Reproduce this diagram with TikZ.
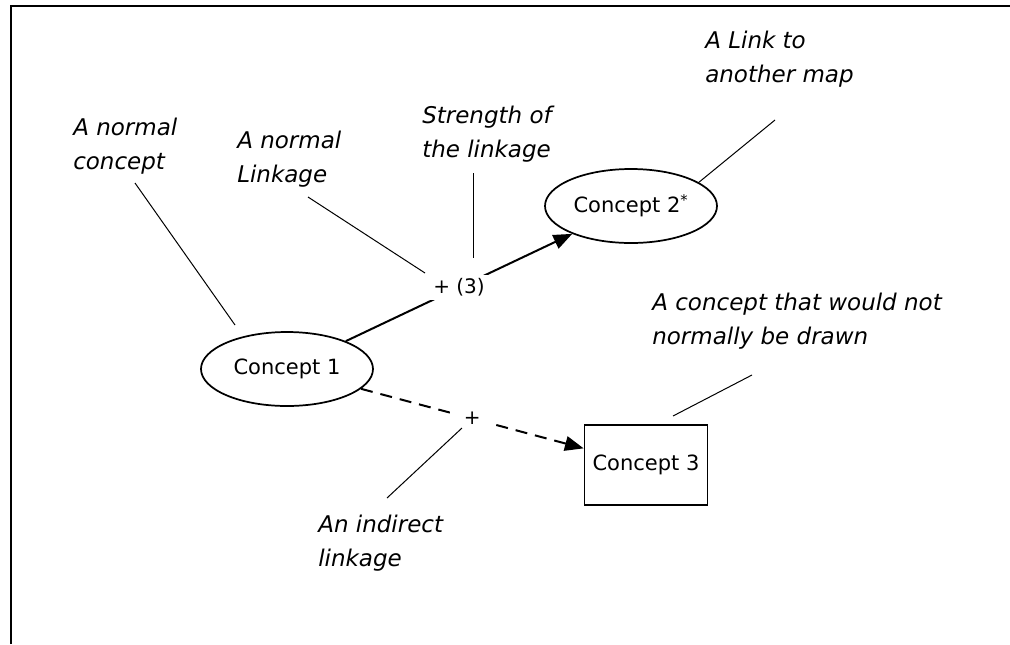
\documentclass[tikz,border=0pt]{standalone}
\usepackage{fontspec}
\setmainfont{DejaVu Sans}
\usetikzlibrary{shapes.geometric,arrows.meta}
\begin{document}
\begin{tikzpicture}[x=0.75pt,y=-0.75pt,
  concept/.style={draw,line width=1.3pt,ellipse,minimum width=129pt,minimum height=55.5pt,inner sep=0pt,font=\fontsize{15.75}{18}\selectfont},
  conceptbox/.style={draw,line width=1.3pt,rectangle,minimum width=92.25pt,minimum height=60pt,inner sep=0pt,font=\fontsize{15.75}{18}\selectfont},
  conn/.style={line width=1.5pt,-{Triangle[length=14pt,width=11pt]}},
  indirect/.style={conn,dash pattern=on 9pt off 6pt},
  lbl/.style={fill=white,inner sep=3pt,font=\fontsize{15}{18}\selectfont},
  note/.style={anchor=base west,align=left,inner sep=0pt,font=\fontsize{17.25}{25.5}\selectfont\itshape},
  leader/.style={line width=0.75pt}]
\useasboundingbox (0,0) rectangle (1010,644);
\fill[white] (0,0) rectangle (1010,644);
\draw[line width=1.5pt,line join=miter] (11,644) -- (11,6) -- (1010,6);

% concepts
\node[concept] (c1) at (287,369) {Concept 1};
\node[concept] (c2) at (631,206) {Concept 2\textsuperscript{*}};
\node[conceptbox] (c3) at (646,465) {Concept 3};

% connectors
\draw[conn] (c1) -- node[lbl] (s1) {+ (3)} (c2);
\draw[indirect] (c1) -- node[lbl,minimum width=33pt] (s2) {+} (c3);

% annotations (anchor = baseline of the last line)
\node[note] (n1) at (73,169) {A normal\\concept};
\node[note] (n2) at (237,182) {A normal\\Linkage};
\node[note] (n3) at (422,157) {Strength of\\the linkage};
\node[note] (n4) at (705,82) {A Link to\\another map};
\node[note] (n5) at (652,344) {A concept that would not\\normally be drawn};
\node[note] (n6) at (318,566) {An indirect\\linkage};

% leader lines
\coordinate (l1a) at (135,183); \coordinate (l1b) at (235,325);
\coordinate (l2a) at (308,197); \coordinate (l2b) at (425,273);
\coordinate (l3a) at (473,173); \coordinate (l3b) at (473,258);
\coordinate (l4a) at (775,120); \coordinate (l4b) at (698,183);
\coordinate (l5a) at (752,375); \coordinate (l5b) at (673,416);
\coordinate (l6a) at (462,428); \coordinate (l6b) at (387,498);
\draw[leader] (l1a) -- (l1b);
\draw[leader] (l2a) -- (l2b);
\draw[leader] (l3a) -- (l3b);
\draw[leader] (l4a) -- (l4b);
\draw[leader] (l5a) -- (l5b);
\draw[leader] (l6a) -- (l6b);
\end{tikzpicture}
\end{document}
